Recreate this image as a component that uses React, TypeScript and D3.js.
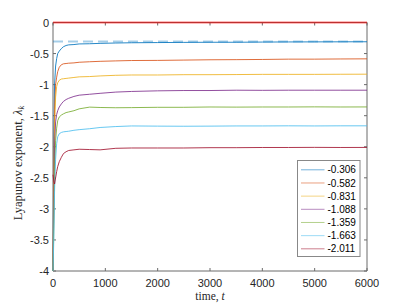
import React from "react";
import * as d3 from "d3";

const T = [0, 15, 30, 50, 70, 90, 120, 160, 200, 250, 300, 400, 500, 700, 900, 1200, 1500, 2000, 2500, 3000, 3500, 4000, 4500, 5000, 5500, 6000];

const s1 = [-4, -2.0, -1.0, -0.7, -0.58, -0.5, -0.46, -0.42, -0.39, -0.37, -0.36, -0.355, -0.345, -0.342, -0.336, -0.33, -0.326, -0.323, -0.32, -0.318, -0.318, -0.315, -0.313, -0.312, -0.311, -0.31];
const s2 = [-4, -2.4, -1.4, -1.0, -0.88, -0.79, -0.72, -0.68, -0.665, -0.66, -0.655, -0.65, -0.64, -0.632, -0.625, -0.618, -0.612, -0.61, -0.605, -0.6, -0.598, -0.595, -0.59, -0.59, -0.587, -0.585];
const s3 = [-4, -2.8, -1.7, -1.2, -1.03, -0.97, -0.93, -0.91, -0.905, -0.9, -0.895, -0.885, -0.875, -0.87, -0.86, -0.85, -0.845, -0.845, -0.84, -0.84, -0.838, -0.835, -0.835, -0.835, -0.833, -0.832];
const s4 = [-4, -3.0, -2.0, -1.6, -1.48, -1.42, -1.36, -1.31, -1.27, -1.24, -1.22, -1.19, -1.17, -1.155, -1.14, -1.12, -1.11, -1.1, -1.095, -1.095, -1.09, -1.092, -1.09, -1.09, -1.09, -1.09];
const s5 = [-4, -3.3, -2.4, -1.9, -1.7, -1.58, -1.52, -1.49, -1.47, -1.45, -1.44, -1.42, -1.39, -1.362, -1.368, -1.372, -1.37, -1.365, -1.365, -1.36, -1.362, -1.36, -1.36, -1.358, -1.36, -1.359];
const s6 = [-4, -3.5, -2.7, -2.2, -1.95, -1.84, -1.79, -1.77, -1.76, -1.755, -1.75, -1.735, -1.725, -1.71, -1.69, -1.675, -1.665, -1.668, -1.67, -1.668, -1.665, -1.665, -1.663, -1.665, -1.663, -1.663];
const s7 = [-2.45, -2.55, -2.6, -2.5, -2.4, -2.32, -2.24, -2.17, -2.11, -2.08, -2.06, -2.05, -2.04, -2.045, -2.05, -2.025, -2.02, -2.02, -2.02, -2.015, -2.015, -2.012, -2.012, -2.01, -2.012, -2.011];

const seriesValues = [s1, s2, s3, s4, s5, s6, s7];
const legendLabels = ["-0.306", "-0.582", "-0.831", "-1.088", "-1.359", "-1.663", "-2.011"];
const colors = ["#0072BD", "#D95319", "#EDB120", "#7E2F8E", "#77AC30", "#4DBEEE", "#A2142F"];
const refValue = -0.306;
const zeroValue = 0;
const xTicks = [0, 1000, 2000, 3000, 4000, 5000, 6000];
const yTicks = [0, -0.5, -1, -1.5, -2, -2.5, -3, -3.5, -4];

const W = 407, H = 305;
const L = 53, R = 367, TOP = 22.5, BOT = 271;

export default function App() {
  const x = d3.scaleLinear().domain([0, 6000]).range([L, R]);
  const y = d3.scaleLinear().domain([-4, 0]).range([BOT, TOP]);
  const line = d3.line<[number, number]>().x(d => x(d[0])).y(d => y(d[1]));
  const axisColor = "#6b6b6b";
  const tickLen = 3;
  const legX = 297.5, legY = 160.5, legW = 62.5, legH = 96;
  return (
    <svg width={W} height={H} style={{ position: "absolute", left: 0, top: 0, background: "#fff" }}>
      <rect x={0} y={0} width={W} height={H} fill="#fff" />
      <g stroke={axisColor} strokeWidth={1} fill="none">
        <line x1={L} y1={TOP} x2={L} y2={BOT} />
        <line x1={L} y1={BOT} x2={R} y2={BOT} />
        <line x1={R} y1={TOP} x2={R} y2={BOT} />
        <line x1={L} y1={TOP} x2={R} y2={TOP} />
        {xTicks.map(t => (
          <g key={"xt" + t}>
            <line x1={x(t)} x2={x(t)} y1={BOT} y2={BOT - tickLen} />
            <line x1={x(t)} x2={x(t)} y1={TOP} y2={TOP + tickLen} />
          </g>
        ))}
        {yTicks.map(v => (
          <g key={"yt" + v}>
            <line x1={L} x2={L + tickLen} y1={y(v)} y2={y(v)} />
            <line x1={R} x2={R - tickLen} y1={y(v)} y2={y(v)} />
          </g>
        ))}
      </g>
      <g fontFamily="Liberation Sans, Arial, sans-serif" fontSize={11} fill="#262626">
        {xTicks.map(t => (
          <text key={"xl" + t} x={x(t)} y={BOT + 16} textAnchor="middle">{t}</text>
        ))}
        {yTicks.map(v => (
          <text key={"yl" + v} x={L - 4} y={y(v) + 4} textAnchor="end">{v}</text>
        ))}
      </g>
      <g fill="none" strokeWidth={0.85}>
        {seriesValues.map((vals, i) => (
          <path key={"s" + i} d={line(T.map((t, j) => [t, vals[j]] as [number, number])) || ""} stroke={colors[i]} />
        ))}
      </g>
      <line x1={x(0)} x2={x(6000)} y1={y(refValue)} y2={y(refValue)} stroke="#0072BD" strokeOpacity={0.35} strokeWidth={2} strokeDasharray="10,5" />
      <line x1={x(0)} x2={x(6000)} y1={y(zeroValue)} y2={y(zeroValue)} stroke="#ff0000" strokeOpacity={0.55} strokeWidth={2} />
      <rect x={legX} y={legY} width={legW} height={legH} fill="#fff" stroke="#888" strokeWidth={1} />
      <g fontFamily="Liberation Sans, Arial, sans-serif" fontSize={10} fill="#000">
        {legendLabels.map((lab, i) => {
          const cy = legY + 9.3 + i * 13.17;
          return (
            <g key={"lg" + i}>
              <line x1={301} x2={324.5} y1={cy} y2={cy} stroke={colors[i]} strokeOpacity={0.55} strokeWidth={1} />
              <text x={327.5} y={cy + 3.6}>{lab}</text>
            </g>
          );
        })}
      </g>
      <text x={(L + R) / 2} y={300} textAnchor="middle" fontFamily="Liberation Serif, DejaVu Serif, serif" fontSize={11.5} fill="#262626">
        time, <tspan fontStyle="italic">t</tspan>
      </text>
      <text transform={`translate(22,163) rotate(-90)`} textAnchor="middle" fontFamily="Liberation Serif, DejaVu Serif, serif" fontSize={12.5} fill="#262626">
        Lyapunov exponent, <tspan fontStyle="italic">λ</tspan><tspan fontStyle="italic" fontSize={8.5} dy={2}>k</tspan>
      </text>
    </svg>
  );
}
